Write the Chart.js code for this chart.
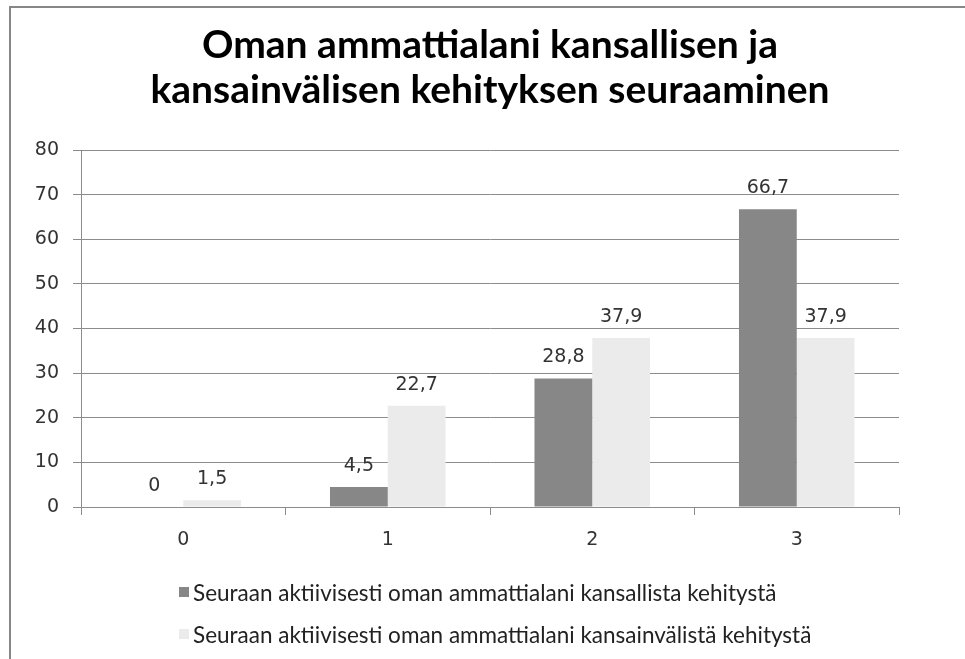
<!DOCTYPE html>
<html lang="fi">
<head>
<meta charset="utf-8">
<title>Oman ammattialani kansallisen ja kansainvälisen kehityksen seuraaminen</title>
<script src="https://cdn.jsdelivr.net/npm/chart.js@4.4.1/dist/chart.umd.min.js"></script>
<style>
  html, body { margin: 0; padding: 0; background: #fff; }
  #wrap { position: relative; width: 965px; height: 659px; overflow: hidden; }
  /* kehys: vain ylä- ja vasen reuna näkyvät */
  #frame { position: absolute; left: 9px; top: 6px; right: -10px; bottom: -10px;
           border-top: 2px solid #878787; border-left: 2px solid #878787; }
  #chart { position: absolute; left: 0; top: 0; }
  #legend { position: absolute; left: 179px; top: 578px;
            font-family: Lato, "Open Sans", sans-serif; font-size: 22.5px; color: #222; }
  .legend-item { display: flex; align-items: center; height: 28px; margin-bottom: 14px; white-space: nowrap; }
  .legend-box { width: 10px; height: 10px; margin-right: 4px; }
</style>
</head>
<body>
<div id="wrap">
  <div id="frame"></div>
  <canvas id="chart" width="965" height="659"></canvas>
  <div id="legend"></div>
</div>
<script>
// Data luettu kuvasta
const categories = ["0", "1", "2", "3"];
const kansallinen = [0, 4.5, 28.8, 66.7];
const kansainvalinen = [1.5, 22.7, 37.9, 37.9];
const seriesNames = [
  "Seuraan aktiivisesti oman ammattialani kansallista kehitystä",
  "Seuraan aktiivisesti oman ammattialani kansainvälistä kehitystä",
];
const titleLines = [
  "Oman ammattialani kansallisen ja",
  "kansainvälisen kehityksen seuraaminen",
];
const yMin = 0;
const yMax = 80;
const yStep = 10;

const gridColor = "#8c8c8c";
const textColor = "#333";

// Arvot pylväiden yläpuolelle (desimaalipilkulla)
const valueLabels = {
  id: "valueLabels",
  afterDatasetsDraw(chart) {
    const ctx = chart.ctx;
    ctx.save();
    ctx.font = "19px 'DejaVu Sans'";
    ctx.fillStyle = textColor;
    ctx.textAlign = "center";
    ctx.textBaseline = "alphabetic";
    chart.data.datasets.forEach((ds, i) => {
      chart.getDatasetMeta(i).data.forEach((bar, j) => {
        const txt = String(ds.data[j]).replace(".", ",");
        ctx.fillText(txt, bar.x, bar.y - 16);
      });
    });
    ctx.restore();
  },
};

const chart = new Chart(document.getElementById("chart").getContext("2d"), {
  type: "bar",
  data: {
    labels: categories,
    datasets: [
      {
        label: seriesNames[0],
        data: kansallinen,
        backgroundColor: "#878787",
        categoryPercentage: 0.565,
        barPercentage: 1,
      },
      {
        label: seriesNames[1],
        data: kansainvalinen,
        backgroundColor: "#ebebeb",
        categoryPercentage: 0.565,
        barPercentage: 1,
      },
    ],
  },
  options: {
    responsive: false,
    animation: false,
    layout: { padding: { left: 0, right: 66, top: 0, bottom: 98 } },
    plugins: {
      legend: { display: false },
      tooltip: { enabled: false },
      title: {
        display: true,
        fullSize: false,
        text: titleLines,
        color: "#000",
        font: { family: "Lato", size: 39, weight: "bold", lineHeight: 1.154 },
        padding: { top: 22.5, bottom: 37.5 },
      },
    },
    scales: {
      x: {
        afterFit: (scale) => { scale.height = 54; },
        grid: { drawOnChartArea: false, drawTicks: true, tickLength: 8, color: gridColor },
        border: { display: true, color: gridColor },
        ticks: {
          color: textColor,
          padding: 14,
          font: { family: "DejaVu Sans", size: 19 },
        },
      },
      y: {
        min: yMin,
        max: yMax,
        afterFit: (scale) => { scale.width = 81; },
        grid: { color: gridColor, tickLength: 8 },
        border: { display: true, color: gridColor },
        ticks: {
          stepSize: yStep,
          color: textColor,
          padding: 14,
          font: { family: "DejaVu Sans", size: 19 },
        },
      },
    },
  },
  plugins: [valueLabels],
});

// Selite HTML:nä, värit datasarjoista
document.getElementById("legend").innerHTML = chart.data.datasets
  .map(
    (ds) => `<div class="legend-item">
      <span class="legend-box" style="background:${ds.backgroundColor}"></span>
      <span>${ds.label}</span>
    </div>`
  )
  .join("");
</script>
</body>
</html>
